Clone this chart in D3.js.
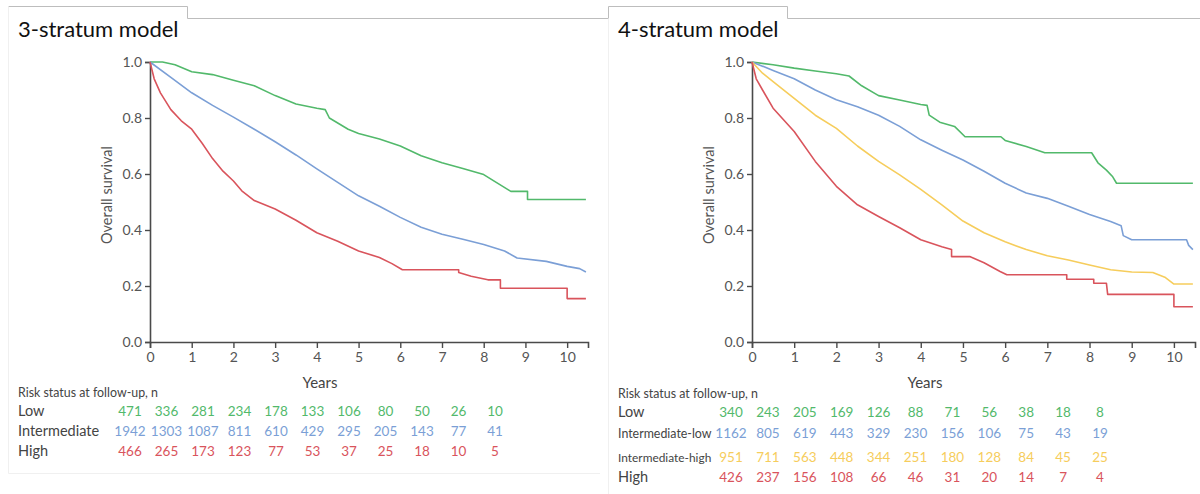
<!DOCTYPE html>
<html>
<head>
<meta charset="utf-8">
<script src="https://cdn.jsdelivr.net/npm/d3@7"></script>
<style>
  body { margin: 0; background: #fff; }
  svg { font-family: Lato, "Open Sans", sans-serif; }
</style>
</head>
<body>
<div id="chart"></div>
<script>
// ---- data ----
let yearTicks = [0, 1, 2, 3, 4, 5, 6, 7, 8, 9, 10];
let survTicks = [0, 0.2, 0.4, 0.6, 0.8, 1.0];

// 3-stratum model
let left3Groups = ["Low", "Intermediate", "High"];
let left3Risk = [
    [471, 336, 281, 234, 178, 133, 106, 80, 50, 26, 10],
    [1942, 1303, 1087, 811, 610, 429, 295, 205, 143, 77, 41],
    [466, 265, 173, 123, 77, 53, 37, 25, 18, 10, 5]
];
let left3Low = [[0,1.0],[0.3,1.0],[0.6,0.99],[1.0,0.965],[1.5,0.955],[2.0,0.935],[2.5,0.915],[3.0,0.88],
    [3.5,0.85],[4.0,0.835],[4.2,0.83],[4.3,0.80],[4.75,0.76],[5.0,0.745],[5.5,0.725],[6.0,0.70],[6.5,0.665],
    [7.0,0.64],[7.5,0.62],[8.0,0.598],[8.3,0.57],[8.65,0.538],[9.05,0.538],[9.05,0.509],[10.45,0.509]];
let left3Int = [[0,1.0],[0.5,0.945],[1,0.89],[1.5,0.845],[2,0.803],[2.5,0.76],[3,0.715],[3.5,0.668],[4,0.618],
    [4.5,0.57],[5,0.522],[5.5,0.485],[6,0.445],[6.5,0.41],[7,0.385],[7.5,0.367],[8,0.348],[8.5,0.325],
    [8.8,0.30],[9.5,0.288],[10,0.27],[10.3,0.262],[10.45,0.25]];
let left3High = [[0,1.0],[0.1,0.94],[0.25,0.89],[0.5,0.83],[0.75,0.79],[1,0.76],[1.25,0.71],[1.5,0.655],
    [1.75,0.61],[2,0.575],[2.2,0.54],[2.5,0.505],[3,0.475],[3.5,0.435],[4,0.39],[4.5,0.36],[5,0.325],
    [5.5,0.302],[5.8,0.28],[6.05,0.258],[7.4,0.258],[7.4,0.248],[7.7,0.235],[8.1,0.222],[8.4,0.222],
    [8.4,0.192],[10,0.192],[10,0.155],[10.45,0.155]];

// 4-stratum model
let right4Groups = ["Low", "Intermediate-low", "Intermediate-high", "High"];
let right4Risk = [
    [340, 243, 205, 169, 126, 88, 71, 56, 38, 18, 8],
    [1162, 805, 619, 443, 329, 230, 156, 106, 75, 43, 19],
    [951, 711, 563, 448, 344, 251, 180, 128, 84, 45, 25],
    [426, 237, 156, 108, 66, 46, 31, 20, 14, 7, 4]
];
let right4Low = [[0,1.0],[0.5,0.99],[1,0.978],[1.5,0.968],[2,0.958],[2.3,0.95],[2.6,0.915],[3,0.88],
    [3.5,0.864],[4,0.848],[4.15,0.845],[4.2,0.81],[4.45,0.785],[4.8,0.77],[5.05,0.733],[5.9,0.733],[6,0.72],
    [6.5,0.698],[6.94,0.676],[8.05,0.676],[8.2,0.64],[8.4,0.614],[8.55,0.59],[8.64,0.567],[10.45,0.567]];
let right4IntLow = [[0,1.0],[0.5,0.97],[1,0.94],[1.5,0.90],[2,0.865],[2.5,0.84],[3,0.81],[3.5,0.77],
    [4,0.722],[4.5,0.685],[5,0.65],[5.5,0.61],[6,0.567],[6.5,0.532],[7,0.513],[7.5,0.485],[8,0.455],
    [8.5,0.43],[8.75,0.415],[8.8,0.38],[9,0.365],[10.3,0.365],[10.35,0.345],[10.45,0.33]];
let right4IntHigh = [[0,1.0],[0.25,0.96],[0.5,0.93],[1,0.87],[1.5,0.81],[2,0.763],[2.5,0.70],[3,0.645],
    [3.5,0.597],[4,0.545],[4.5,0.49],[5,0.432],[5.5,0.39],[6,0.358],[6.5,0.33],[7,0.308],[7.5,0.293],
    [8,0.275],[8.5,0.258],[9,0.25],[9.5,0.248],[9.8,0.23],[10,0.207],[10.45,0.207]];
let right4High = [[0,1.0],[0.1,0.94],[0.25,0.9],[0.5,0.835],[1,0.752],[1.5,0.645],[2,0.556],[2.5,0.49],
    [3,0.448],[3.5,0.408],[4,0.365],[4.5,0.34],[4.73,0.33],[4.73,0.305],[5.16,0.305],[5.5,0.283],
    [5.88,0.252],[6.04,0.24],[7.46,0.24],[7.46,0.224],[8.1,0.224],[8.1,0.21],[8.4,0.21],[8.43,0.17],
    [10,0.17],[10,0.126],[10.45,0.126]];

let green = "#52b96b", blue = "#7b9fd6", yellow = "#f6cd5c", red = "#d9545c";

let svg = d3.select("#chart").append("svg")
    .attr("width", 1200)
    .attr("height", 494);

// panel frames (tab style)
let frame = svg.append("g").attr("fill", "none").attr("stroke", "#bdbdbd").attr("stroke-width", 1);
frame.append("path").attr("d", "M8.5,6.5H187.5V18.5H608.5");
frame.append("path").attr("d", "M600,18.5H608.5V6.5H787.5V18.5H1200");
let faint = svg.append("g").attr("fill", "none").attr("stroke", "#f0f0f0").attr("stroke-width", 1);
faint.append("path").attr("d", "M8.5,6.5V473.5H600");
faint.append("path").attr("d", "M608.5,18.5V494");

// shrink the font of a text if Lato renders it wider than the original face
function fitFont(sel, maxW) {
    sel.each(function() {
        let w = this.getComputedTextLength();
        if (w > maxW) {
            let fs = +d3.select(this).attr("font-size");
            d3.select(this).attr("font-size", Math.floor(fs * maxW / w * 10) / 10);
        }
    });
}

function drawPanel(opts) {
    let g = svg.append("g");

    let x = d3.scaleLinear().domain([0, 10.5]).range([opts.x0, opts.x1]);
    let y = d3.scaleLinear().domain([0, 1]).range([342, 62]);

    g.append("text")
        .attr("x", opts.titleX).attr("y", 37)
        .attr("font-size", 22).attr("fill", "#111")
        .text(opts.title);

    let xAxis = g.append("g")
        .attr("transform", "translate(0,342)")
        .call(d3.axisBottom(x).tickValues(yearTicks).tickSize(6).tickPadding(4).tickFormat(d3.format("d")));
    let yAxis = g.append("g")
        .attr("transform", "translate(" + opts.x0 + ",0)")
        .call(d3.axisLeft(y).tickValues(survTicks).tickSize(5).tickPadding(3).tickFormat(d3.format(".1f")));
    [xAxis, yAxis].forEach(function(a) {
        a.select(".domain").attr("stroke", "#4a4a4a").attr("stroke-width", 1.6);
        a.selectAll(".tick line").attr("stroke", "#4a4a4a").attr("stroke-width", 1.4);
        a.selectAll(".tick text").attr("fill", "#555").attr("font-size", 14)
            .attr("font-family", "Lato, 'Open Sans', sans-serif");
    });

    g.append("text")
        .attr("transform", "translate(" + (opts.x0 - 38) + "," + 195 + ") rotate(-90)")
        .attr("text-anchor", "middle")
        .attr("font-size", 14.5).attr("fill", "#555")
        .text("Overall survival");

    g.append("text")
        .attr("x", opts.yearsX).attr("y", 388)
        .attr("text-anchor", "middle")
        .attr("font-size", 15).attr("fill", "#444")
        .text("Years");

    let line = d3.line()
        .x((d) => x(d[0]))
        .y((d) => y(d[1]));

    opts.curves.forEach(function(c) {
        g.append("path")
            .datum(c.data)
            .attr("fill", "none")
            .attr("stroke", c.color)
            .attr("stroke-width", 1.6)
            .attr("stroke-linejoin", "round")
            .attr("d", line);
    });

    // number-at-risk table
    let tx = d3.scaleLinear().domain([0, 10]).range(opts.tableRange);
    g.append("text")
        .attr("x", 18 + opts.offset).attr("y", opts.headerY)
        .attr("font-size", 14).attr("fill", "#444")
        .attr("textLength", 140).attr("lengthAdjust", "spacingAndGlyphs")
        .text("Risk status at follow-up, n");

    opts.groups.forEach(function(name, i) {
        let rowY = opts.rowY[i];
        g.append("text")
            .attr("x", 18 + opts.offset).attr("y", rowY)
            .attr("font-size", 14.5).attr("fill", "#444")
            .text(name)
            .call(fitFont, 94);
        g.selectAll(null)
            .data(opts.risk[i])
            .enter().append("text")
            .attr("x", (d, j) => tx(yearTicks[j]))
            .attr("y", rowY)
            .attr("text-anchor", "middle")
            .attr("font-size", 13.5)
            .attr("fill", opts.colors[i])
            .text((d) => d);
    });
}

drawPanel({
    title: "3-stratum model", titleX: 18, offset: 0,
    x0: 150, x1: 588, yearsX: 320,
    curves: [
        {data: left3Low, color: green},
        {data: left3Int, color: blue},
        {data: left3High, color: red}
    ],
    groups: left3Groups, risk: left3Risk, colors: [green, blue, red],
    tableRange: [130, 495], headerY: 397, rowY: [416, 436, 456]
});

drawPanel({
    title: "4-stratum model", titleX: 618, offset: 600,
    x0: 752, x1: 1195, yearsX: 925,
    curves: [
        {data: right4Low, color: green},
        {data: right4IntLow, color: blue},
        {data: right4IntHigh, color: yellow},
        {data: right4High, color: red}
    ],
    groups: right4Groups, risk: right4Risk, colors: [green, blue, yellow, red],
    tableRange: [731, 1100], headerY: 398, rowY: [417, 438, 462, 482]
});
</script>
</body>
</html>
